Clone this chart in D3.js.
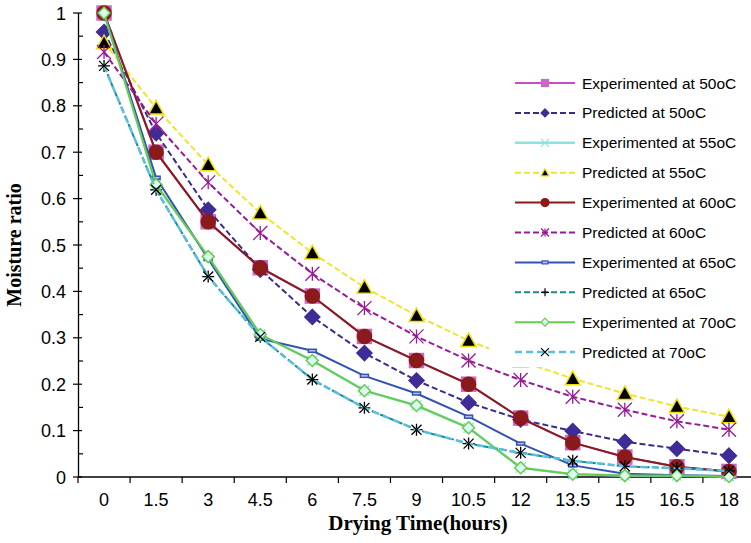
<!DOCTYPE html>
<html><head><meta charset="utf-8">
<script src="https://cdn.jsdelivr.net/npm/d3@7"></script>
<style>html,body{margin:0;padding:0;background:#fff;}svg{display:block;}</style>
</head><body>
<svg id="c" width="751" height="543"></svg>
<script>
const categories = ["0","1.5","3","4.5","6","7.5","9","10.5","12","13.5","15","16.5","18"];
const yTicks = [0,0.1,0.2,0.3,0.4,0.5,0.6,0.7,0.8,0.9,1];
const yTickLabels = ["0","0.1","0.2","0.3","0.4","0.5","0.6","0.7","0.8","0.9","1"];

const exp50  = [1,0.70,0.55,0.451,0.39,0.303,0.251,0.20,0.127,0.074,0.043,0.022,0.012];
const pred50 = [0.959,0.741,0.576,0.447,0.345,0.267,0.208,0.160,0.124,0.099,0.076,0.061,0.046];
const exp55  = [1,0.63,0.475,0.307,0.251,0.186,0.154,0.106,0.02,0.006,0.003,0.003,0.001];
const pred55 = [0.936,0.795,0.673,0.569,0.483,0.409,0.348,0.294,0.250,0.212,0.180,0.152,0.130];
const exp60  = [1,0.70,0.55,0.451,0.39,0.303,0.251,0.20,0.127,0.074,0.043,0.022,0.012];
const pred60 = [0.916,0.761,0.635,0.526,0.438,0.364,0.303,0.251,0.209,0.173,0.145,0.120,0.102];
const exp65  = [1,0.645,0.47,0.298,0.272,0.218,0.180,0.130,0.072,0.025,0.007,0.004,0.002];
const pred65 = [0.886,0.619,0.432,0.302,0.210,0.149,0.102,0.072,0.052,0.035,0.023,0.019,0.013];
const exp70  = [1,0.63,0.475,0.307,0.251,0.186,0.154,0.106,0.02,0.006,0.003,0.003,0.001];
const pred70 = [0.886,0.619,0.432,0.302,0.210,0.149,0.102,0.072,0.052,0.035,0.023,0.019,0.013];

const seriesNames = ["Experimented at 50oC","Predicted at 50oC","Experimented at 55oC","Predicted at 55oC",
  "Experimented at 60oC","Predicted at 60oC","Experimented at 65oC","Predicted at 65oC",
  "Experimented at 70oC","Predicted at 70oC"];
const seriesValues = [exp50,pred50,exp55,pred55,exp60,pred60,exp65,pred65,exp70,pred70];

const styles = [
  {line:"#c44fc4", dash:null, w:2, mk:"square", fill:"#c868c8", stroke:"#c868c8", s:7, ls:3.5},
  {line:"#3b2a8e", dash:"6,3", w:2, mk:"diamond", fill:"#3f2c96", stroke:"#3f2c96", s:7.5, ls:4},
  {line:"#8fe0e0", dash:null, w:2.5, mk:"x", fill:"none", stroke:"#8fe0e0", s:5, ls:4},
  {line:"#f0e52a", dash:"6,3", w:2, mk:"triangle", fill:"#000", stroke:"#f0e000", s:7.5, ls:4},
  {line:"#8b1a1a", dash:null, w:2, mk:"circle", fill:"#8b1a1a", stroke:"#8b1a1a", s:7, ls:4},
  {line:"#991a99", dash:"6,3", w:2, mk:"star", fill:"none", stroke:"#991a99", s:7, ls:4},
  {line:"#3352b3", dash:null, w:2, mk:"dash", fill:"#b8c0f0", stroke:"#3352b3", s:4, ls:3},
  {line:"#1a8c8c", dash:"6,3", w:2, mk:"plus", fill:"none", stroke:"#000", s:6, ls:4},
  {line:"#66cc4d", dash:null, w:2, mk:"diamond", fill:"#dcf8f0", stroke:"#66cc4d", s:6, ls:4},
  {line:"#5bc0e0", dash:"7,4", w:2.5, mk:"x", fill:"none", stroke:"#000", s:5, ls:4}
];

const svg = d3.select("#c");
const x = d3.scalePoint().domain(categories).range([78, 755]).padding(0.5);
const y = d3.scaleLinear().domain([0,1]).range([477, 13]);

function marker(g, type, s, fill, stroke, sw) {
  let p;
  if (type === "square") p = g.append("rect").attr("x",-s).attr("y",-s).attr("width",2*s).attr("height",2*s);
  else if (type === "circle") p = g.append("circle").attr("r", s);
  else if (type === "diamond") p = g.append("path").attr("d", `M0,${-s}L${s},0L0,${s}L${-s},0Z`);
  else if (type === "triangle") p = g.append("path").attr("d", `M0,${-s}L${s},${s*0.8}L${-s},${s*0.8}Z`);
  else if (type === "dash") p = g.append("rect").attr("x",-s).attr("y",-1.5).attr("width",2*s).attr("height",3);
  else if (type === "x") p = g.append("path").attr("d", `M${-s},${-s}L${s},${s}M${-s},${s}L${s},${-s}`);
  else if (type === "plus") p = g.append("path").attr("d", `M0,${-s}L0,${s}M${-s},0L${s},0`);
  else if (type === "star") p = g.append("path").attr("d", `M0,${-s}L0,${s}M${-s},${-s}L${s},${s}M${-s},${s}L${s},${-s}`);
  p.attr("fill", fill).attr("stroke", stroke).attr("stroke-width", sw);
}

// axes
const gx = svg.append("g").attr("transform","translate(0,477)");
gx.append("line").attr("x1",78).attr("x2",755).attr("stroke","#000").attr("stroke-width",1.3);
const bounds = d3.range(categories.length+1).map(i => 78 + i*x.step());
gx.selectAll(".xt").data(bounds).enter().append("line")
  .attr("x1",d=>d).attr("x2",d=>d).attr("y1",0).attr("y2",6).attr("stroke","#000").attr("stroke-width",1.2);
gx.selectAll(".xl").data(categories).enter().append("text")
  .attr("x",d=>x(d)).attr("y",29).attr("text-anchor","middle")
  .attr("font-family","Liberation Sans, Arial, sans-serif").attr("font-size",18).attr("fill","#000").text(d=>d);

const gy = svg.append("g");
gy.append("line").attr("x1",78.5).attr("x2",78.5).attr("y1",y(1)).attr("y2",y(0)).attr("stroke","#000").attr("stroke-width",1.3);
gy.selectAll(".yt").data(yTicks).enter().append("line")
  .attr("x1",73).attr("x2",82).attr("y1",d=>y(d)).attr("y2",d=>y(d)).attr("stroke","#000").attr("stroke-width",1.2);
gy.selectAll(".ym").data(yTicks.slice(0,-1)).enter().append("line")
  .attr("x1",78.5).attr("x2",83).attr("y1",d=>y(d+0.05)).attr("y2",d=>y(d+0.05)).attr("stroke","#000").attr("stroke-width",1.2);
gy.selectAll(".yl").data(yTicks).enter().append("text")
  .attr("x",66).attr("y",d=>y(d)+6.5).attr("text-anchor","end")
  .attr("font-family","Liberation Sans, Arial, sans-serif").attr("font-size",18).attr("fill","#000")
  .text((d,i)=>yTickLabels[i]);

// series
const line = d3.line().x((d,i)=>x(categories[i])).y(d=>y(d));
seriesValues.forEach((vals, k) => {
  const st = styles[k];
  const g = svg.append("g");
  g.append("path").datum(vals).attr("d", line).attr("fill","none")
    .attr("stroke", st.line).attr("stroke-width", st.w)
    .attr("stroke-dasharray", st.dash);
  vals.forEach((v,i) => {
    const m = g.append("g").attr("transform",`translate(${x(categories[i])},${y(v)})`);
    marker(m, st.mk, st.s, st.fill, st.stroke, (st.mk==="x"||st.mk==="plus"||st.mk==="star") ? 1.3 : 1.5);
  });
});

// legend
const lg = svg.append("g");
lg.append("rect").attr("x",489).attr("y",62).attr("width",270).attr("height",305).attr("fill","#fff");
seriesNames.forEach((name,k) => {
  const st = styles[k];
  const yy = 83 + k*29.9;
  lg.append("line").attr("x1",515).attr("x2",575).attr("y1",yy).attr("y2",yy)
    .attr("stroke",st.line).attr("stroke-width",st.w).attr("stroke-dasharray",st.dash);
  const m = lg.append("g").attr("transform",`translate(545,${yy})`);
  marker(m, st.mk, st.ls, st.fill, st.stroke, 1.2);
  lg.append("text").attr("x",582).attr("y",yy+5.5)
    .attr("font-family","Liberation Sans, Arial, sans-serif").attr("font-size",15.5).attr("fill","#000").text(name);
});

// titles
svg.append("text").attr("x",418).attr("y",530).attr("text-anchor","middle")
  .attr("font-family","Liberation Serif, Times New Roman, serif").attr("font-weight","bold").attr("font-size",21)
  .attr("fill","#000").text("Drying Time(hours)");
svg.append("text").attr("transform","translate(21,245) rotate(-90)").attr("text-anchor","middle")
  .attr("font-family","Liberation Serif, Times New Roman, serif").attr("font-weight","bold").attr("font-size",20)
  .attr("fill","#000").text("Moisture ratio");
</script>
</body></html>
